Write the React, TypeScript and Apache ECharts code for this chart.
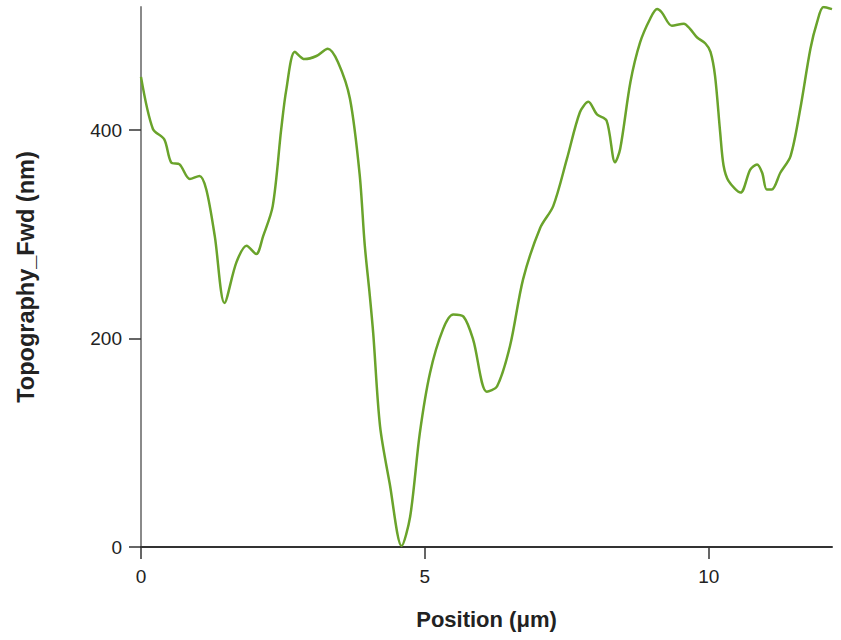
import React, { useEffect, useRef } from "react";
import * as echarts from "echarts";

const positionUm: number[] = [
  0, 0.21, 0.41, 0.53, 0.68, 0.86, 1.03, 1.15, 1.3, 1.47, 1.68, 1.86, 2.03, 2.15, 2.32, 2.47, 2.56, 2.71,
  2.88, 3.09, 3.29, 3.47, 3.68, 3.85, 3.94, 4.03, 4.09, 4.21, 4.38, 4.59, 4.74, 4.91, 5.09, 5.32, 5.5,
  5.68, 5.85, 6.09, 6.27, 6.5, 6.73, 7.03, 7.26, 7.5, 7.73, 7.88, 8.03, 8.2, 8.35, 8.44, 8.62, 8.79,
  8.97, 9.09, 9.17, 9.35, 9.56, 9.67, 9.79, 9.94, 10.03, 10.11, 10.2, 10.26, 10.35, 10.56, 10.73, 10.85,
  10.94, 11.02, 11.11, 11.26, 11.44, 11.61, 11.79, 11.91, 12.02, 12.17,
];

const topographyNm: number[] = [
  451, 401, 391, 369, 367, 353, 356, 343, 298, 234, 273, 289, 281, 298, 327, 401, 439, 475,
  468, 471, 478, 465, 430, 358, 290, 241, 205, 116, 61, 1, 29, 109, 167, 209, 223,
  221, 199, 149, 154, 193, 257, 306, 327, 372, 417, 427, 415, 409, 369, 382, 446, 484,
  507, 516, 513, 500, 502, 497, 489, 483, 475, 452, 398, 366, 351, 340, 362, 367,
  359, 343, 343, 359, 375, 420, 478, 504, 518, 516,
];

const xTicks: number[] = [0, 5, 10];
const yTicks: number[] = [0, 200, 400];
const xMax = 12.17;
const yMax = 518;

const FONT = "'Liberation Sans', Arial, Helvetica, sans-serif";

export default function App() {
  const ref = useRef<HTMLDivElement>(null);
  useEffect(() => {
    document.body.style.margin = "0";
    if (!ref.current) return;
    const chart = echarts.init(ref.current, null, { renderer: "svg" });
    chart.setOption({
      animation: false,
      backgroundColor: "#ffffff",
      grid: { left: 141, right: 9, top: 7, bottom: 93, containLabel: false },
      xAxis: {
        type: "value",
        min: 0,
        max: xMax,
        name: "Position (μm)",
        nameLocation: "middle",
        nameGap: 61,
        nameTextStyle: { fontFamily: FONT, fontSize: 22, fontWeight: "bold", color: "#222" },
        axisLine: { show: true, lineStyle: { color: "#333", width: 2 } },
        axisTick: { show: true, length: 12, lineStyle: { color: "#333", width: 1.5 }, customValues: xTicks },
        axisLabel: { fontFamily: FONT, fontSize: 19, color: "#222", margin: 20, customValues: xTicks },
        splitLine: { show: false },
      },
      yAxis: {
        type: "value",
        min: 0,
        max: yMax,
        name: "Topography_Fwd (nm)",
        nameLocation: "middle",
        nameGap: 103,
        nameTextStyle: { fontFamily: FONT, fontSize: 23.5, fontWeight: "bold", color: "#222" },
        axisLine: { show: true, lineStyle: { color: "#8a8a8a", width: 2 } },
        axisTick: { show: true, length: 12, lineStyle: { color: "#333", width: 1.5 }, customValues: yTicks },
        axisLabel: { fontFamily: FONT, fontSize: 19, color: "#222", margin: 19, customValues: yTicks },
        splitLine: { show: false },
      },
      series: [
        {
          type: "line",
          data: positionUm.map((x, i) => [x, topographyNm[i]]),
          smooth: 0.3,
          showSymbol: false,
          symbol: "none",
          lineStyle: { color: "#6aa32b", width: 2.5 },
          clip: true,
        },
      ],
    });
    return () => chart.dispose();
  }, []);
  return <div ref={ref} style={{ width: 841, height: 640 }} />;
}
